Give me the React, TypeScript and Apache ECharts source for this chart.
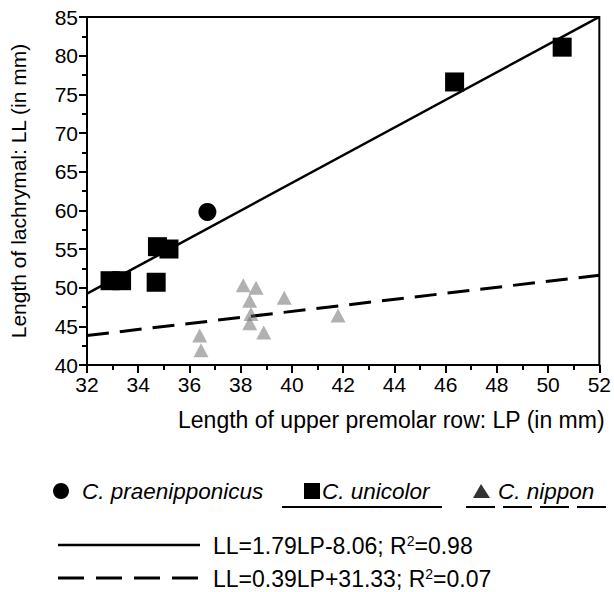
import React, { useEffect, useRef } from "react";
import * as echarts from "echarts";

const praenipponicus: number[][] = [[36.7, 59.8]];
const unicolor: number[][] = [
  [32.9, 50.9],
  [33.35, 50.9],
  [34.7, 50.7],
  [34.75, 55.3],
  [35.2, 55.0],
  [46.35, 76.6],
  [50.55, 81.1],
];
const nippon: number[][] = [
  [36.4, 43.8],
  [36.45, 41.9],
  [38.1, 50.3],
  [38.6, 50.0],
  [38.35, 48.3],
  [38.4, 46.6],
  [38.35, 45.4],
  [38.9, 44.2],
  [39.7, 48.7],
  [41.8, 46.4],
];
const fitAll = { slope: 1.79, intercept: -8.06, r2: 0.98 };
const fitNippon = { slope: 0.39, intercept: 31.33, r2: 0.07 };
const xRange = [32, 52];
const yRange = [40, 85];

const FONT = "Liberation Sans, Arial, sans-serif";

export default function App() {
  const ref = useRef<HTMLDivElement>(null);
  useEffect(() => {
    if (!ref.current) return;
    const chart = echarts.init(ref.current, undefined, { renderer: "svg" });
    const lineData = (f: { slope: number; intercept: number }) =>
      xRange.map((x) => [x, f.slope * x + f.intercept]);
    const rich = {
      t: { fill: "#000", font: `23px ${FONT}` },
      s: { fill: "#000", font: `14px ${FONT}`, verticalAlign: "top", padding: [0, 0, 10, 0] },
    };
    chart.setOption({
      animation: false,
      backgroundColor: "#fff",
      textStyle: { fontFamily: FONT },
      grid: {
        left: 83,
        right: 11,
        top: 17,
        bottom: 227,
        show: true,
        borderColor: "#000",
        borderWidth: 2,
      },
      xAxis: {
        type: "value",
        min: xRange[0],
        max: xRange[1],
        interval: 2,
        axisLine: { lineStyle: { color: "#000", width: 2 } },
        axisTick: { inside: false, length: 8, lineStyle: { color: "#000", width: 2 } },
        minorTick: { show: true, splitNumber: 2, length: 5, lineStyle: { color: "#000", width: 2 } },
        splitLine: { show: false },
        axisLabel: { color: "#000", fontSize: 21, fontFamily: FONT, margin: 9 },
      },
      yAxis: {
        type: "value",
        min: yRange[0],
        max: yRange[1],
        interval: 5,
        name: "Length of lachrymal: LL (in mm)",
        nameLocation: "middle",
        nameGap: 58,
        nameTextStyle: { color: "#000", fontSize: 21, fontFamily: FONT },
        axisLine: { lineStyle: { color: "#000", width: 2 } },
        axisTick: { inside: false, length: 8, lineStyle: { color: "#000", width: 2 } },
        minorTick: { show: true, splitNumber: 2, length: 5, lineStyle: { color: "#000", width: 2 } },
        splitLine: { show: false },
        axisLabel: { color: "#000", fontSize: 21, fontFamily: FONT, margin: 9 },
      },
      series: [
        {
          name: "fitAll",
          type: "line",
          data: lineData(fitAll),
          symbol: "none",
          lineStyle: { color: "#000", width: 2.5 },
          z: 2,
        },
        {
          name: "fitNippon",
          type: "line",
          data: lineData(fitNippon),
          symbol: "none",
          lineStyle: { color: "#000", width: 3, type: [22, 11] },
          z: 2,
        },
        {
          name: "C. nippon",
          type: "scatter",
          data: nippon,
          symbol: "triangle",
          symbolSize: [15, 14],
          itemStyle: { color: "rgba(100,100,100,0.5)", opacity: 1 },
          z: 3,
        },
        {
          name: "C. unicolor",
          type: "scatter",
          data: unicolor,
          symbol: "rect",
          symbolSize: 19,
          itemStyle: { color: "#000", opacity: 1 },
          z: 4,
        },
        {
          name: "C. praenipponicus",
          type: "scatter",
          data: praenipponicus,
          symbol: "circle",
          symbolSize: 18,
          itemStyle: { color: "#000", opacity: 1 },
          z: 4,
        },
      ],
      graphic: [
        {
          type: "text",
          right: 9,
          top: 408,
          style: {
            text: "Length of upper premolar row: LP (in mm)",
            fill: "#000",
            font: `23px ${FONT}`,
          },
        },
        // legend row 1
        { type: "circle", shape: { cx: 61, cy: 491, r: 8 }, style: { fill: "#000" } },
        {
          type: "text",
          x: 82,
          y: 491,
          style: {
            text: "C. praenipponicus",
            fill: "#000",
            font: `italic 22.5px ${FONT}`,
            verticalAlign: "middle",
          },
        },
        { type: "rect", shape: { x: 304, y: 483, width: 16, height: 16 }, style: { fill: "#000" } },
        {
          type: "text",
          x: 322,
          y: 491,
          style: {
            text: "C. unicolor",
            fill: "#000",
            font: `italic 22.5px ${FONT}`,
            verticalAlign: "middle",
          },
        },
        { type: "line", shape: { x1: 282, y1: 507, x2: 442, y2: 507 }, style: { stroke: "#000", lineWidth: 2 } },
        {
          type: "polygon",
          shape: { points: [[481, 484], [473, 498], [490, 498]] },
          style: { fill: "#333" },
        },
        {
          type: "text",
          x: 498,
          y: 491,
          style: {
            text: "C. nippon",
            fill: "#000",
            font: `italic 22.5px ${FONT}`,
            verticalAlign: "middle",
          },
        },
        {
          type: "line",
          shape: { x1: 466, y1: 507, x2: 607, y2: 507 },
          style: { stroke: "#000", lineWidth: 2, lineDash: [29, 8] },
        },
        // legend row 2
        { type: "line", shape: { x1: 58, y1: 545, x2: 200, y2: 545 }, style: { stroke: "#000", lineWidth: 2.5 } },
        {
          type: "text",
          x: 213,
          y: 546,
          style: {
            rich,
            text: `{t|LL=${fitAll.slope}LP${fitAll.intercept.toFixed(2)}; R}{s|2}{t|=${fitAll.r2.toFixed(2)}}`,
            verticalAlign: "middle",
          },
        },
        // legend row 3
        {
          type: "line",
          shape: { x1: 58, y1: 578, x2: 198, y2: 578 },
          style: { stroke: "#000", lineWidth: 3, lineDash: [26, 12] },
        },
        {
          type: "text",
          x: 213,
          y: 579,
          style: {
            rich,
            text: `{t|LL=${fitNippon.slope}LP+${fitNippon.intercept.toFixed(2)}; R}{s|2}{t|=${fitNippon.r2.toFixed(2)}}`,
            verticalAlign: "middle",
          },
        },
      ],
    });
    return () => chart.dispose();
  }, []);
  return <div ref={ref} style={{ width: 614, height: 592, position: "absolute", left: 0, top: 0 }} />;
}
